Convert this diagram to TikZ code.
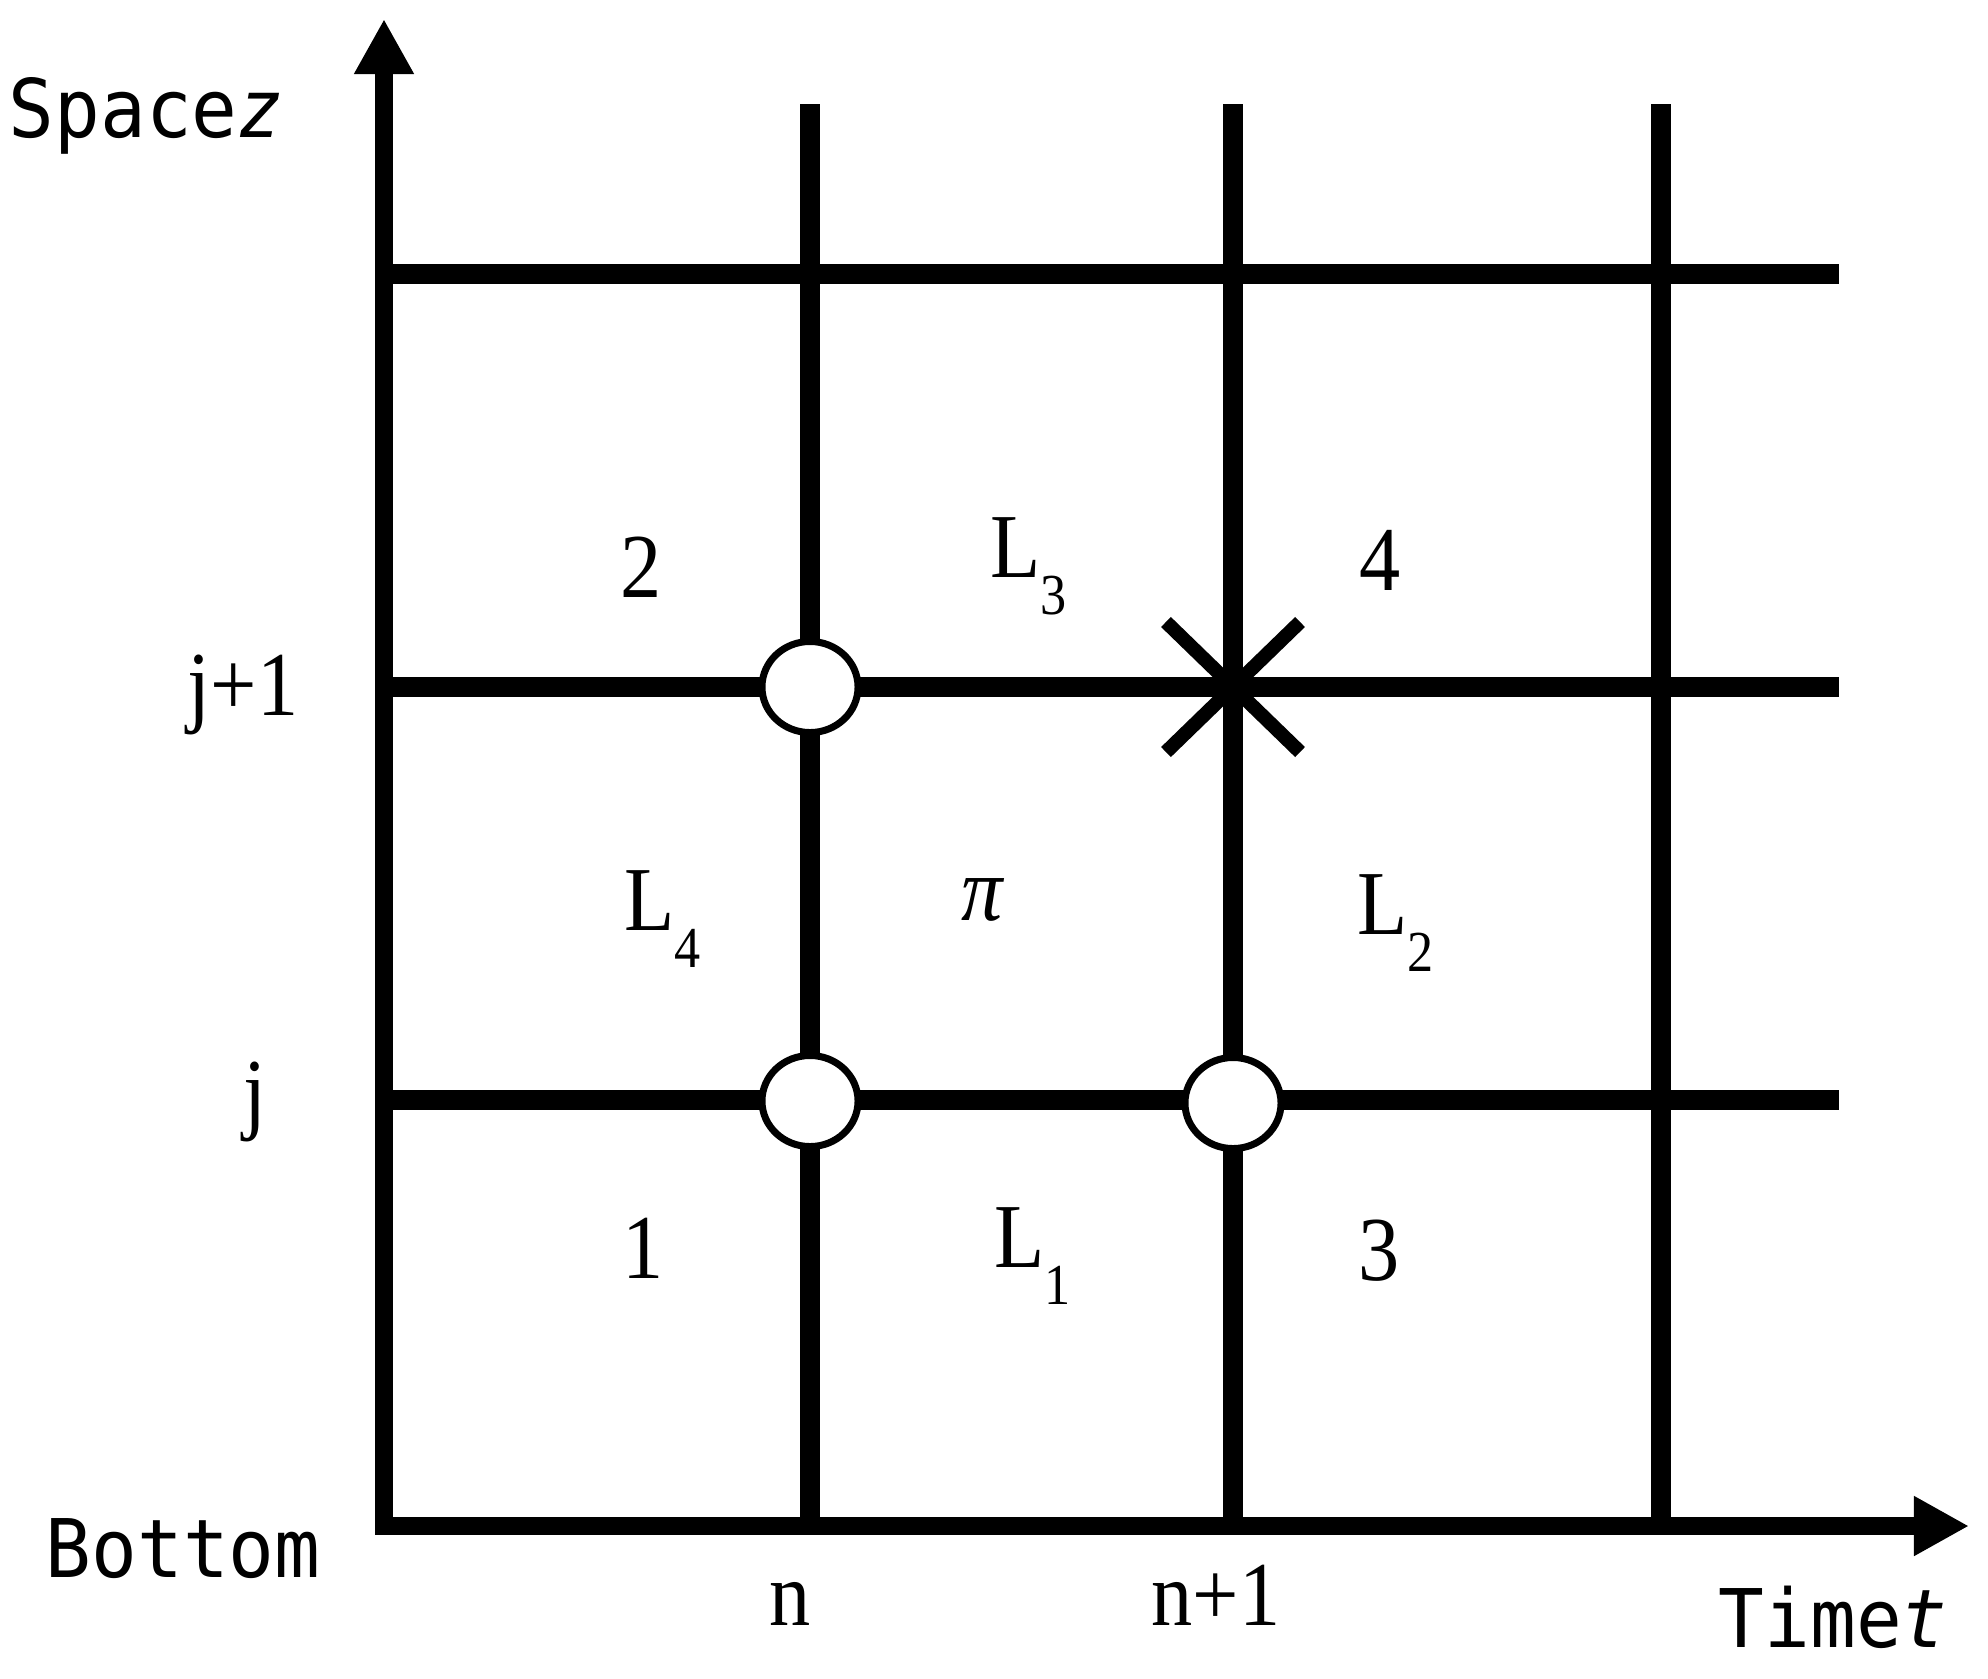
\documentclass[tikz,border=0pt]{standalone}
\usepackage{fontspec}
\setmainfont[FakeStretch=0.9]{Liberation Serif}
\newfontfamily\labelfont[FakeStretch=0.94]{DejaVu Sans Mono}
\usetikzlibrary{arrows.meta,shapes.geometric,shapes.misc}

\tikzset{
  axisline/.style={line width=0.18cm, {Triangle[length=0.55cm,width=0.56cm]}-{Triangle[length=0.55cm,width=0.56cm]}},
  gridline/.style={line width=0.2cm},
  junction/.style={shape=ellipse, draw=black, fill=white, line width=0.07cm, minimum width=0.96cm, minimum height=0.91cm, inner sep=0pt},
  crossmark/.style={shape=cross out, draw=black, line width=0.14cm, minimum width=1.2cm, minimum height=1.16cm, inner sep=0pt},
  cell/.style={font=\fontsize{26}{28}\selectfont, inner sep=0pt, anchor=base},
  axislabel/.style={font=\labelfont\fontsize{23}{25}\selectfont, inner sep=0pt, anchor=base west}
}
\newcommand{\Lsub}[1]{L\raisebox{-0.41em}{\fontsize{16.5}{17}\selectfont #1}}

\begin{document}
\begin{tikzpicture}[x=0.01cm, y=-0.01cm]
\useasboundingbox (0,0) rectangle (1988,1678);

% axes
\coordinate (O) at (384,1526);
\coordinate (zTop) at (384,19);
\coordinate (tEnd) at (1969,1526);
\draw[axisline] (zTop) -- (O) -- (tEnd);

% grid
\foreach \x/\nm in {810/n, 1233/m, 1661/r} {
  \coordinate (\nm top) at (\x,104);
  \coordinate (\nm bot) at (\x,1526);
  \draw[gridline] (\nm top) -- (\nm bot);
}
\foreach \y/\nm in {274/a, 687/b, 1100/c} {
  \coordinate (\nm left) at (384,\y);
  \coordinate (\nm right) at (1839,\y);
  \draw[gridline] (\nm left) -- (\nm right);
}

% marks on the nodes
\node[junction] (p1) at (810,687) {};
\node[junction] (p2) at (810,1101) {};
\node[junction] (p3) at (1233,1103) {};
\node[crossmark] (q1) at (1233,687) {};

% cell labels
\node[cell] (c2) at (641,597) {2};
\node[cell, anchor=base west] (l3) at (990,577) {\Lsub{3}};
\node[cell] (c4) at (1380,590) {4};
\node[cell, anchor=base west] (l4) at (624,930) {\Lsub{4}};
\node[cell] (pi) at (982,920) {\itshape π};
\node[cell, anchor=base west] (l2) at (1357,934) {\Lsub{2}};
\node[cell] (c1) at (643,1278) {1};
\node[cell, anchor=base west] (l1) at (994,1267) {\Lsub{1}};
\node[cell] (c3) at (1379,1280) {3};

% axis labels
\node[cell] (jp) at (243,715) {j+1};
\node[cell] (jj) at (255,1122) {j};
\node[cell] (nn) at (790,1625) {n};
\node[cell] (np) at (1216,1625) {n+1};
\node[axislabel] (tlab) at (1718,1647) {Time{\itshape t}};
\node[axislabel] (blab) at (45,1577) {Bottom};
\node[axislabel] (zlab) at (8,137) {Space{\itshape z}};
\end{tikzpicture}
\end{document}
